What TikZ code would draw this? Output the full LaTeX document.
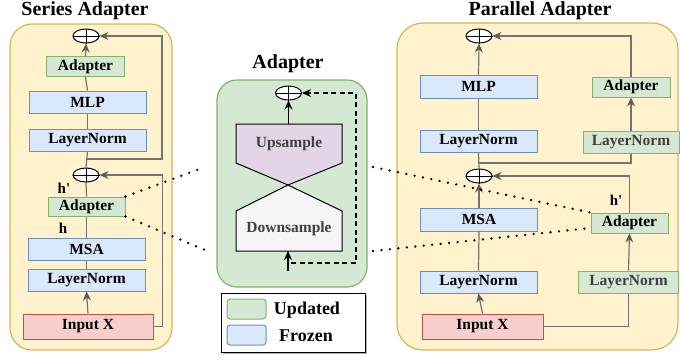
\documentclass[tikz,border=0pt]{standalone}
\usepackage{fontspec}
\setmainfont{Liberation Serif}
\usetikzlibrary{arrows.meta,shapes.geometric}
\definecolor{panelfill}{HTML}{FFF2CC}
\definecolor{paneldraw}{HTML}{D6B656}
\definecolor{bluefill}{HTML}{DAE8FC}
\definecolor{bluedraw}{HTML}{6C8EBF}
\definecolor{greenfill}{HTML}{D5E8D4}
\definecolor{greendraw}{HTML}{82B366}
\definecolor{redfill}{HTML}{F8CECC}
\definecolor{reddraw}{HTML}{B85450}
\definecolor{purplefill}{HTML}{E1D5E7}
\definecolor{greyfill}{HTML}{F5F5F5}
\definecolor{linegray}{HTML}{737373}
\definecolor{tipgray}{HTML}{5A5A5A}
\definecolor{darktext}{HTML}{404040}
\tikzset{
  boxfont/.style={font=\fontsize{15.5}{16}\selectfont\bfseries},
  bbox/.style={boxfont, draw=bluedraw, fill=bluefill, line width=1pt, inner sep=0pt, minimum height=22pt},
  gbox/.style={boxfont, draw=greendraw, fill=greenfill, line width=1pt, inner sep=0pt, minimum height=20pt},
  rbox/.style={boxfont, draw=reddraw, fill=redfill, line width=1pt, inner sep=0pt, minimum height=25pt},
  oplusnode/.style={ellipse, draw, line width=1pt, fill=white, minimum width=26pt, minimum height=14pt, inner sep=0pt},
  ln/.style={draw=linegray, line width=1.2pt},
  arr/.style={ln, -{Stealth[length=9pt,width=8pt,inset=3pt,color=tipgray]}},
  barr/.style={draw=black, line width=1.1pt, -{Stealth[length=9pt,width=8pt,inset=3pt]}},
  panel/.style={fill=panelfill, draw=paneldraw, line width=1.2pt, rounded corners=22pt},
  dotline/.style={line width=2.6pt, dash pattern=on 0pt off 8.5pt, line cap=round},
  title/.style={font=\fontsize{20}{22}\selectfont\bfseries},
  lbl/.style={font=\fontsize{15}{16}\selectfont\bfseries}
}
\newcommand{\crossin}[1]{\draw[line width=1pt] (#1.north) -- (#1.south) (#1.west) -- (#1.east);}
\begin{document}
\begin{tikzpicture}[x=1pt,y=-1pt]
\useasboundingbox (0,0) rectangle (680,360);

% ---------- Series Adapter ----------
\node[title] (tS) at (85,11) {Series Adapter};
\draw[panel] (10,24) rectangle (172,350);
\node[oplusnode] (pL1) at (86,36) {}; \crossin{pL1}
\node[gbox, minimum width=78pt] (aL1) at (85.5,66.5) {Adapter};
\node[bbox, minimum width=117pt] (mlpL) at (87.5,102) {MLP};
\node[bbox, minimum width=117pt] (lnL1) at (87.5,140) {LayerNorm};
\node[oplusnode] (pL2) at (86,175) {}; \crossin{pL2}
\node[gbox, minimum width=77pt, minimum height=19pt] (aL2) at (86.5,206.5) {Adapter};
\node[bbox, minimum width=117pt] (msaL) at (86.5,249) {MSA};
\node[bbox, minimum width=117pt] (lnL2) at (86.5,280) {LayerNorm};
\node[rbox, minimum width=130pt] (inL) at (88,326.5) {Input X};
\node[lbl] (hpL) at (64,188) {h\textquotesingle};
\node[lbl] (hL) at (63,228) {h};
\coordinate (bL) at (86,159);

\draw[arr] (aL1.north) -- (pL1.south);
\draw[ln] (mlpL.north) -- (aL1.south);
\draw[ln] (lnL1.north) -- (mlpL.south);
\draw[ln] (pL2.north) -- (lnL1.south);
\draw[arr] (bL) -- ++(76,0) |- (pL1.east);
\draw[ln] (aL2.north) -- (pL2.south);
\draw[ln] (msaL.north) -- (aL2.south);
\draw[ln] (lnL2.north) -- (msaL.south);
\draw[arr] (inL.north) -- (lnL2.south);
\draw[arr] (inL.east) -- ++(9,0) |- (pL2.east);

% ---------- Adapter (middle) ----------
\node[title] (tM) at (288,64) {Adapter};
\draw[fill=greenfill, draw=greendraw, line width=1.2pt, rounded corners=20pt] (217,80) rectangle (367,287);
\node[oplusnode] (pM) at (288.5,93) {}; \crossin{pM}
\draw[fill=purplefill, draw=black, line width=1pt] (236,124) -- (342,124) -- (342,163) -- (288,185) -- (236,163) -- cycle;
\draw[fill=greyfill, draw=black, line width=1pt] (288,185) -- (342,211) -- (342,251) -- (236,251) -- (236,211) -- cycle;
\node[boxfont, text=darktext] (up) at (289,144) {Upsample};
\node[boxfont, text=darktext] (down) at (289,229) {Downsample};
\coordinate (upTop) at (288.5,124);
\coordinate (downBot) at (288,251);
\coordinate (inM) at (288,271);
\coordinate (dashStart) at (291,263);
\draw[barr] (upTop) -- (pM.south);
\draw[barr] (inM) -- (downBot);
\draw[black, line width=1.1pt, dash pattern=on 5pt off 3.5pt, -{Stealth[length=9pt,width=8pt,inset=3pt]}] (dashStart) -- (356,263) |- (pM.east);

% ---------- Legend ----------
\draw[fill=gray!60, draw=none] (223,295) rectangle (367,354);
\draw[fill=white, draw=black, line width=1pt] (221,293) rectangle (365,352);
\node[draw=greendraw, fill=greenfill, line width=1pt, rounded corners=3pt, minimum width=39pt, minimum height=20pt, inner sep=0pt] (lgG) at (246.5,309) {};
\node[draw=bluedraw, fill=bluefill, line width=1pt, rounded corners=3pt, minimum width=39pt, minimum height=20pt, inner sep=0pt] (lgB) at (246.5,335) {};
\node[font=\fontsize{18}{20}\selectfont\bfseries] (lgGt) at (307,310) {Updated};
\node[font=\fontsize{18}{20}\selectfont\bfseries] (lgBt) at (306,336) {Frozen};

% ---------- Parallel Adapter ----------
\node[title] (tP) at (540,11) {Parallel Adapter};
\draw[panel, rounded corners=26pt] (397,23) rectangle (678,350);
\node[oplusnode] (pR1) at (479,36) {}; \crossin{pR1}
\node[bbox, minimum width=117pt, minimum height=23pt] (mlpR) at (478.5,86.5) {MLP};
\node[bbox, minimum width=117pt] (lnR1) at (478.5,141) {LayerNorm};
\node[gbox, minimum width=78pt] (aR1) at (631,87) {Adapter};
\node[gbox, minimum width=96pt, minimum height=22pt, text=darktext] (glnR1) at (631,142) {LayerNorm};
\node[oplusnode] (pR2) at (479,176) {}; \crossin{pR2}
\node[bbox, minimum width=117pt, minimum height=23pt] (msaR) at (479,219.5) {MSA};
\node[bbox, minimum width=117pt] (lnR2) at (478.5,282) {LayerNorm};
\node[rbox, minimum width=121pt] (inR) at (482.5,326.5) {Input X};
\node[gbox, minimum width=77pt] (aR2) at (629.5,223) {Adapter};
\node[gbox, minimum width=100pt, minimum height=22pt, text=darktext] (glnR2) at (628.5,282) {LayerNorm};
\node[lbl] (hpR) at (616,200) {h\textquotesingle};
\coordinate (bR) at (479,163);

\draw[arr] (mlpR.north) -- (pR1.south);
\draw[ln] (lnR1.north) -- (mlpR.south);
\draw[ln] (pR2.north) -- (lnR1.south);
\draw[ln] (bR) -| (glnR1.south);
\draw[arr] (glnR1.north) -- (aR1.south);
\draw[arr] (aR1.north) |- (pR1.east);
\draw[arr] (msaR.north) -- (pR2.south);
\draw[ln] (lnR2.north) -- (msaR.south);
\draw[arr] (inR.north) -- (lnR2.south);
\draw[ln] (inR.east) -| (glnR2.south);
\draw[arr] (glnR2.north) -- (aR2.south);
\draw[arr] (aR2.north) |- (pR2.east);

% ---------- dotted connectors ----------
\coordinate (mTL) at (205,167);
\coordinate (mBL) at (205,250);
\coordinate (mTR) at (373,167);
\coordinate (mBR) at (373,251);
\draw[dotline] (aL2.north east) -- (mTL);
\draw[dotline] (aL2.south east) -- (mBL);
\draw[dotline] (mTR) -- (aR2.north west);
\draw[dotline] (mBR) -- ([yshift=-5pt]aR2.west);
\end{tikzpicture}
\end{document}
